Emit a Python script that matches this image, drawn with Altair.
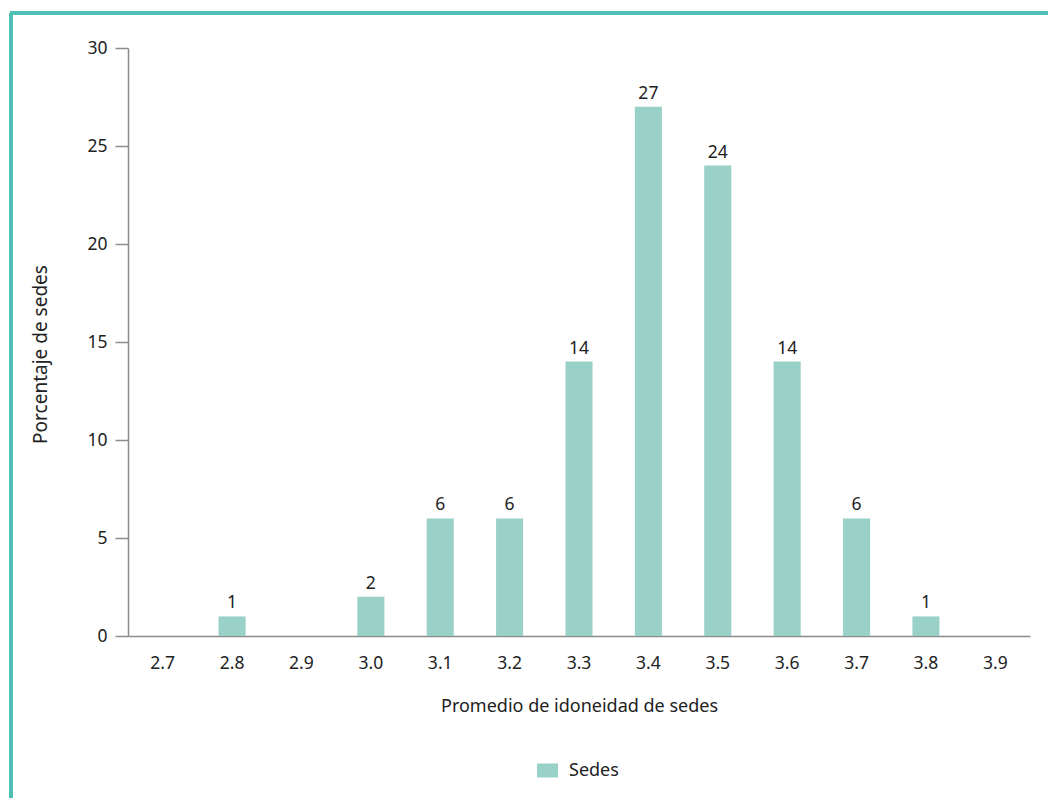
import altair as alt
import pandas as pd

categorias = ["2.7", "2.8", "2.9", "3.0", "3.1", "3.2", "3.3", "3.4", "3.5", "3.6", "3.7", "3.8", "3.9"]
porcentajes = [0, 1, 0, 2, 6, 6, 14, 27, 24, 14, 6, 1, 0]
serie = "Sedes"

df = pd.DataFrame({"cat": categorias, "val": porcentajes, "serie": [serie] * len(categorias)})
df["lbl"] = [str(v) if v > 0 else "" for v in porcentajes]

FONT = "Noto Sans"
BAR = "#99D0C8"
TEAL = "#4DBFB3"
GRAY = "#8C8C8C"

xenc = alt.X("cat:N", sort=categorias,
             scale=alt.Scale(paddingInner=0.61, paddingOuter=0.305),
             axis=alt.Axis(title="Promedio de idoneidad de sedes", labelAngle=0, ticks=False,
                           labelPadding=18, domainColor=GRAY, domainWidth=1.5,
                           titleFontSize=18,
                           titleX=451, titleY=70, titleBaseline="middle"))
yenc = alt.Y("val:Q", scale=alt.Scale(domain=[0, 30]),
             axis=alt.Axis(title="Porcentaje de sedes", values=[0, 5, 10, 15, 20, 25, 30], grid=False,
                           tickSize=13, tickColor=GRAY, tickWidth=1.5, domainColor=GRAY, domainWidth=1.5,
                           titleFontSize=19,
                           labelPadding=8, titleX=-88, titleY=306, titleBaseline="middle"))

bars = alt.Chart(df).mark_bar(color=BAR).encode(
    x=xenc, y=yenc,
    color=alt.Color("serie:N", scale=alt.Scale(domain=[serie], range=[BAR]),
                    legend=alt.Legend(title=None, orient="none", legendX=409, legendY=712,
                                      symbolType="M-1,-0.667H1V0.667H-1Z", symbolSize=441,
                                      symbolStrokeWidth=0, symbolOpacity=1, labelOffset=11, padding=0,
                                      labelFontSize=18, labelFont=FONT, labelColor="#222222")),
)
texts = alt.Chart(df).mark_text(baseline="bottom", dy=-4, fontSize=17.5, font=FONT, color="#222222").encode(
    x=alt.X("cat:N", sort=categorias), y="val:Q", text="lbl:N")

frame_left = alt.Chart(df).mark_rule(color=TEAL, strokeWidth=2.5).encode(
    x=alt.value(-117), y=alt.value(-35), y2=alt.value(780))
frame_top = alt.Chart(df).mark_rule(color=TEAL, strokeWidth=2.5).encode(
    x=alt.value(-118), x2=alt.value(930), y=alt.value(-35))

chart = alt.layer(bars, texts, frame_left, frame_top).properties(
    width=902, height=588,
    padding={"left": 120, "top": 40, "right": 18, "bottom": 162},
    autosize=alt.AutoSizeParams(type="none"),
).configure_view(stroke=None).configure_axis(
    labelFont=FONT, titleFont=FONT, labelFontSize=17.5, titleFontSize=16,
    labelColor="#222222", titleColor="#222222", titleFontWeight="normal",
)

chart.save("out.html", embed_options={"renderer": "svg", "actions": False})
